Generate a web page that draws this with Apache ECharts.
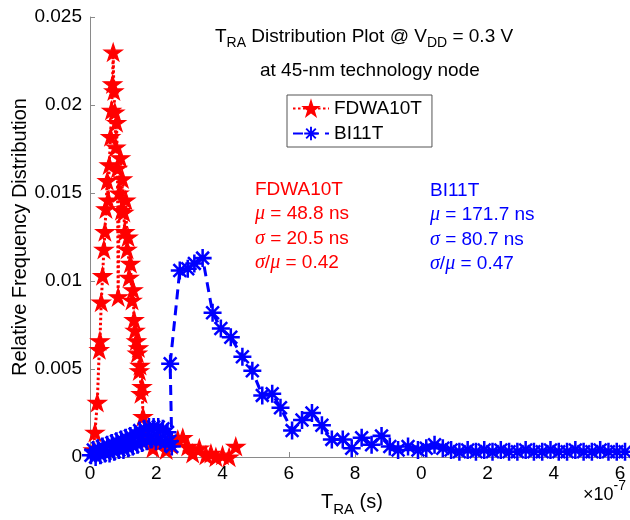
<!DOCTYPE html>
<html>
<head>
<meta charset="utf-8">
<script src="https://cdn.jsdelivr.net/npm/echarts@6/dist/echarts.min.js"></script>
<style>
  html, body { margin: 0; padding: 0; background: #fff; }
  #chart { width: 630px; height: 520px; }
</style>
</head>
<body>
<div id="chart"></div>
<script>
// T_RA histogram data, time in units of 1e-7 s
const fdwaT = [0.10, 0.15, 0.22, 0.28, 0.30, 0.34, 0.38, 0.42, 0.45, 0.48, 0.52, 0.55, 0.58, 0.62, 0.65, 0.68, 0.70, 0.72, 0.75, 0.78, 0.80, 0.83, 0.85, 0.88, 0.92, 0.95, 0.98, 1.02, 1.05, 1.08, 1.12, 1.15, 1.18, 1.22, 1.27, 1.30, 1.33, 1.36, 1.40, 1.43, 1.46, 1.49, 1.51, 1.54, 1.57, 1.60, 1.65, 1.72, 1.90, 2.10, 2.30, 2.45, 2.65, 2.80, 2.95, 3.10, 3.30, 3.50, 3.65, 3.80, 4.00, 4.20, 4.40];
const fdwaF = [0.0004, 0.0014, 0.0031, 0.0061, 0.0066, 0.0088, 0.0103, 0.0118, 0.0128, 0.0141, 0.0157, 0.0146, 0.0166, 0.0182, 0.0197, 0.0212, 0.0230, 0.0208, 0.0196, 0.0176, 0.0190, 0.0164, 0.0091, 0.0150, 0.0170, 0.0140, 0.0158, 0.0139, 0.0128, 0.0146, 0.0118, 0.0125, 0.0102, 0.0110, 0.0089, 0.0095, 0.0078, 0.0072, 0.0066, 0.0059, 0.0062, 0.0049, 0.0052, 0.0036, 0.0040, 0.0023, 0.0015, 0.0010, 0.0005, 0.0008, 0.0004, 0.0007, 0.0010, 0.0011, 0.0006, 0.0002, 0.0005, 0.0001, 0.0002, 0.0000, 0.0001, 0.0000, 0.0006];

const bi11T = [0.03, 0.10, 0.17, 0.24, 0.31, 0.38, 0.45, 0.52, 0.59, 0.66, 0.73, 0.80, 0.87, 0.94, 1.01, 1.08, 1.15, 1.22, 1.29, 1.36, 1.43, 1.50, 1.57, 1.64, 1.71, 1.78, 1.85, 1.92, 1.99, 2.06, 2.13, 2.20, 2.27, 2.34, 2.41, 2.47, 2.42, 2.71, 2.95, 3.15, 3.40, 3.70, 3.95, 4.25, 4.60, 4.90, 5.20, 5.50, 5.75, 6.10, 6.40, 6.70, 7.00, 7.30, 7.63, 7.90, 8.20, 8.50, 8.80, 9.05, 9.30, 9.60, 9.90, 10.15, 10.40, 10.65, 10.90, 11.15, 11.40, 11.65, 11.90, 12.15, 12.40, 12.65, 12.90, 13.15, 13.40, 13.65, 13.90, 14.15, 14.40, 14.65, 14.90, 15.15, 15.40, 15.65, 15.90, 16.15];
const bi11F = [0.0001, 0.0004, 0.0000, 0.0005, 0.0001, 0.0006, 0.0002, 0.0007, 0.0002, 0.0008, 0.0003, 0.0009, 0.0004, 0.0010, 0.0004, 0.0011, 0.0005, 0.0012, 0.0006, 0.0013, 0.0007, 0.0015, 0.0008, 0.0016, 0.0009, 0.0017, 0.0010, 0.0017, 0.0009, 0.0017, 0.0010, 0.0016, 0.0008, 0.0014, 0.0009, 0.0006, 0.0053, 0.0106, 0.0107, 0.0110, 0.0113, 0.0082, 0.0073, 0.0068, 0.0057, 0.0049, 0.0035, 0.0036, 0.0028, 0.0015, 0.0021, 0.0025, 0.0018, 0.0010, 0.0010, 0.0005, 0.0011, 0.0007, 0.0012, 0.0006, 0.0004, 0.0006, 0.0004, 0.0005, 0.0007, 0.0005, 0.0004, 0.0003, 0.0004, 0.0003, 0.0004, 0.0003, 0.0004, 0.0003, 0.0003, 0.0004, 0.0003, 0.0003, 0.0004, 0.0003, 0.0003, 0.0004, 0.0003, 0.0003, 0.0004, 0.0003, 0.0003, 0.0003];

const xTickValues = [0, 2, 4, 6, 8, 10, 12, 14, 16];
const xTickLabels = ['0', '2', '4', '6', '8', '0', '2', '4', '6'];

const seriesNames = ['FDWA10T', 'BI11T'];

const STAR = 'path://M0,-10 L2.245,-3.09 L9.511,-3.09 L3.633,1.18 L5.878,8.09 L0,3.82 L-5.878,8.09 L-3.633,1.18 L-9.511,-3.09 L-2.245,-3.09 Z';
const ASTERISK = 'path://M-1.4,-10 L1.4,-10 L1.4,10 L-1.4,10 Z ' +
  'M-10,-1.4 L10,-1.4 L10,1.4 L-10,1.4 Z ' +
  'M-6.08,-8.06 L8.06,6.08 L6.08,8.06 L-8.06,-6.08 Z ' +
  'M6.08,-8.06 L8.06,-6.08 L-6.08,8.06 L-8.06,6.08 Z';

const FONT = 'Liberation Sans, Arial, sans-serif';
const GREEK = { fontFamily: 'Liberation Serif, serif', fontStyle: 'italic', fontSize: 20 };

function pairs(xs, ys) { return xs.map((x, i) => [x, ys[i]]); }

const chart = echarts.init(document.getElementById('chart'), null, { renderer: 'canvas' });

chart.setOption({
  backgroundColor: '#fff',
  animation: false,
  textStyle: { fontFamily: FONT },
  grid: { left: 90, right: 0, top: 17, bottom: 63, containLabel: false, outerBoundsMode: 'none' },
  xAxis: {
    type: 'value',
    min: 0, max: 16.3, interval: 2,
    axisLine: { lineStyle: { color: '#8a8a8a', width: 1 } },
    axisTick: { inside: true, length: 5, lineStyle: { color: '#8a8a8a' } },
    splitLine: { show: false },
    showMaxLabel: false,
    axisLabel: {
      color: '#000', fontSize: 19, fontFamily: FONT, margin: 7,
      formatter: v => { const i = xTickValues.indexOf(v); return i >= 0 ? xTickLabels[i] : ''; }
    }
  },
  yAxis: {
    type: 'value',
    min: 0, max: 0.025, interval: 0.005,
    axisLine: { show: true, lineStyle: { color: '#8a8a8a', width: 1 } },
    axisTick: { show: true, inside: true, length: 5, lineStyle: { color: '#8a8a8a' } },
    splitLine: { show: false },
    axisLabel: { color: '#000', fontSize: 19, fontFamily: FONT, margin: 8 },
    name: 'Relative Frequency Distribution',
    nameLocation: 'middle',
    nameGap: 60,
    nameMoveOverlap: false,
    nameTextStyle: { color: '#000', fontSize: 20, fontFamily: FONT }
  },
  legend: {
    left: 287, top: 95,
    orient: 'vertical',
    data: seriesNames,
    itemWidth: 36, itemHeight: 17, itemGap: 6,
    backgroundColor: '#fff',
    borderColor: '#555', borderWidth: 1, borderRadius: 0,
    padding: [4, 10, 4, 5],
    textStyle: { color: '#000', fontSize: 19, fontFamily: FONT }
  },
  series: [
    {
      name: seriesNames[0],
      type: 'line',
      data: pairs(fdwaT, fdwaF),
      clip: false,
      symbol: STAR, symbolSize: 18, symbolKeepAspect: true,
      itemStyle: { color: '#ff0000', borderColor: '#ff0000', borderWidth: 1.2 },
      lineStyle: { color: '#ff0000', width: 3, type: [2.5, 2.5] }
    },
    {
      name: seriesNames[1],
      type: 'line',
      data: pairs(bi11T, bi11F),
      clip: false,
      symbol: ASTERISK, symbolSize: 18, symbolKeepAspect: true,
      itemStyle: { color: '#0000ff' },
      lineStyle: { color: '#0000ff', width: 3, type: [10, 6] }
    }
  ],
  graphic: [
    {
      type: 'text', left: 215, top: 27,
      style: {
        text: '{n|T}{s|RA}{n| Distribution Plot @ V}{s|DD}{n| = 0.3 V}',
        rich: {
          n: { fontSize: 19, fontFamily: FONT, fill: '#000' },
          s: { fontSize: 14, fontFamily: FONT, fill: '#000', padding: [14, 0, 0, 0] }
        }
      }
    },
    {
      type: 'text', left: 260, top: 61,
      style: { text: 'at 45-nm technology node', fontSize: 19, fontFamily: FONT, fill: '#000' }
    },
    {
      type: 'text', left: 255, top: 180,
      style: {
        text: '{n|FDWA10T}\n{g|μ}{n| = 48.8 ns}\n{g|σ}{n| = 20.5 ns}\n{g|σ}{n|/}{g|μ}{n| = 0.42}',
        fill: '#ff0000',
        rich: {
          n: { fontSize: 19, fontFamily: FONT, fill: '#ff0000', lineHeight: 24.5 },
          g: Object.assign({ fill: '#ff0000', lineHeight: 24.5 }, GREEK)
        }
      }
    },
    {
      type: 'text', left: 430, top: 181,
      style: {
        text: '{n|BI11T}\n{g|μ}{n| = 171.7 ns}\n{g|σ}{n| = 80.7 ns}\n{g|σ}{n|/}{g|μ}{n| = 0.47}',
        fill: '#0000ff',
        rich: {
          n: { fontSize: 19, fontFamily: FONT, fill: '#0000ff', lineHeight: 24.5 },
          g: Object.assign({ fill: '#0000ff', lineHeight: 24.5 }, GREEK)
        }
      }
    },
    {
      type: 'text', left: 321, top: 492,
      style: {
        text: '{n|T}{s|RA}{n| (s)}',
        rich: {
          n: { fontSize: 20, fontFamily: FONT, fill: '#000' },
          s: { fontSize: 15, fontFamily: FONT, fill: '#000', padding: [16, 0, 0, 0] }
        }
      }
    },
    {
      type: 'text', left: 583, top: 479,
      style: {
        text: '{n|×10}{p|-7}',
        rich: {
          n: { fontSize: 18, fontFamily: FONT, fill: '#000', padding: [8, 0, 0, 0] },
          p: { fontSize: 14, fontFamily: FONT, fill: '#000', padding: [0, 0, 10, 0] }
        }
      }
    }
  ]
});
</script>
</body>
</html>
